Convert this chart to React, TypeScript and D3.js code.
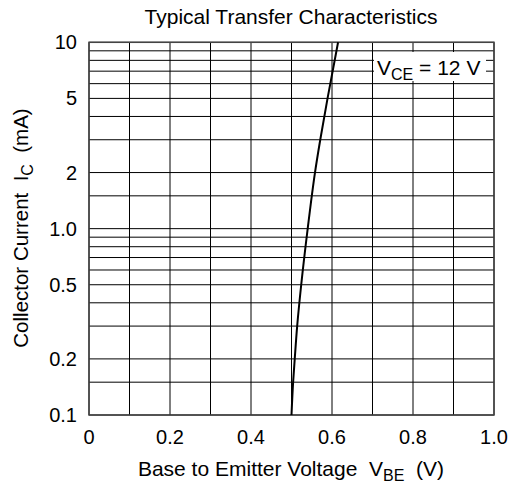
import React from "react";
import * as d3 from "d3";

const W = 523;
const H = 485;

const icValues = [0.1, 0.15, 0.2, 0.3, 0.5, 1.0, 2, 3, 5, 10];
const vbeValues = [0.5, 0.504, 0.508, 0.514, 0.524, 0.54, 0.558, 0.571, 0.589, 0.615];

const xTicks = [0, 0.2, 0.4, 0.6, 0.8, 1.0];
const xTickLabels = ["0", "0.2", "0.4", "0.6", "0.8", "1.0"];
const xGrid = [0, 0.1, 0.2, 0.3, 0.4, 0.5, 0.6, 0.7, 0.8, 0.9, 1.0];
const yTicks = [0.1, 0.2, 0.5, 1, 2, 5, 10];
const yTickLabels = ["0.1", "0.2", "0.5", "1.0", "2", "5", "10"];
const yGrid = [0.1, 0.15, 0.2, 0.3, 0.4, 0.5, 0.6, 0.7, 0.8, 0.9, 1, 1.5, 2, 3, 4, 5, 6, 7, 8, 9, 10];

const FONT = "'Liberation Sans', Arial, Helvetica, sans-serif";

export default function App() {
  const x = d3.scaleLinear().domain([0, 1]).range([89, 494]);
  const y = d3.scaleLog().domain([0.1, 10]).range([415, 42.3]);
  const pts: [number, number][] = icValues.map((ic, i) => [vbeValues[i], ic]);
  const line = d3
    .line<[number, number]>()
    .x((d) => x(d[0]))
    .y((d) => y(d[1]))
    .curve(d3.curveMonotoneY);

  const [x0, x1] = x.range();
  const [y0, y1] = y.range();

  return (
    <svg
      width={W}
      height={H}
      style={{ position: "absolute", left: 0, top: 0, background: "#fff" }}
      fontFamily={FONT}
    >
      <rect x={0} y={0} width={W} height={H} fill="#fff" />
      {xGrid.map((v) => (
        <line key={"xg" + v} x1={x(v)} x2={x(v)} y1={y1} y2={y0} stroke="#000" strokeWidth={1} />
      ))}
      {yGrid.map((v) => (
        <line key={"yg" + v} x1={x0} x2={x1} y1={y(v)} y2={y(v)} stroke="#000" strokeWidth={1} />
      ))}
      <rect x={x0} y={y1} width={x1 - x0} height={y0 - y1} fill="none" stroke="#444" strokeWidth={1.5} />
      <path d={line(pts) || ""} fill="none" stroke="#000" strokeWidth={2} />

      <rect x={374} y={52} width={112} height={29} fill="#fff" />
      <text x={377} y={75} fontSize={21} fill="#000">
        V<tspan fontSize={16} dy={5}>CE</tspan>
        <tspan dy={-5}> = 12 V</tspan>
      </text>

      {xTicks.map((v, i) => (
        <text key={"xt" + v} x={x(v)} y={444} fontSize={20} textAnchor="middle" fill="#000">
          {xTickLabels[i]}
        </text>
      ))}
      {yTicks.map((v, i) => (
        <text key={"yt" + v} x={77} y={y(v) + 7} fontSize={20} textAnchor="end" fill="#000">
          {yTickLabels[i]}
        </text>
      ))}

      <text x={291} y={24} fontSize={21} textAnchor="middle" fill="#000">
        Typical Transfer Characteristics
      </text>
      <text x={291} y={476} fontSize={21} textAnchor="middle" fill="#000" style={{ whiteSpace: "pre" }}>
        Base to Emitter Voltage  V<tspan fontSize={16} dy={5}>BE</tspan>
        <tspan dy={-5}>  (V)</tspan>
      </text>
      <text
        transform={`translate(28, 228) rotate(-90)`}
        fontSize={20.5}
        textAnchor="middle"
        fill="#000"
        style={{ whiteSpace: "pre" }}
      >
        Collector Current  I<tspan fontSize={16} dy={5}>C</tspan>
        <tspan dy={-5}>  (mA)</tspan>
      </text>
    </svg>
  );
}
